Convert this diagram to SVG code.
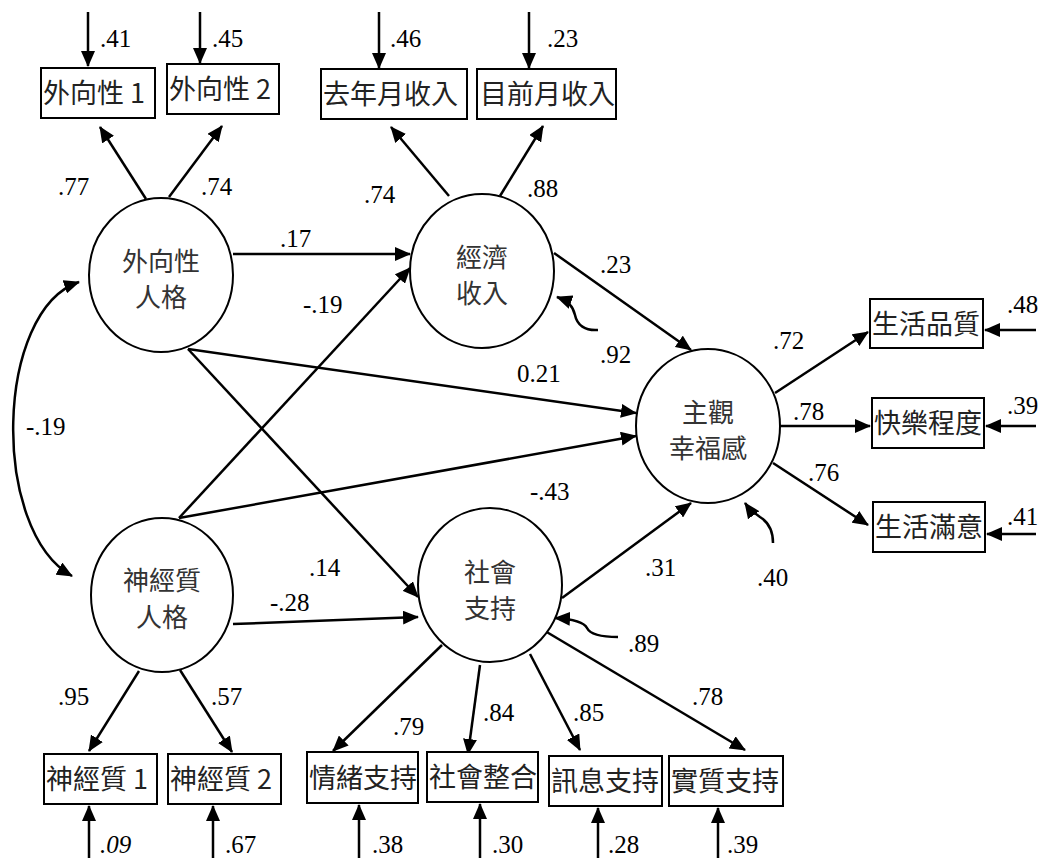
<svg xmlns="http://www.w3.org/2000/svg" width="1044" height="860" viewBox="0 0 1044 860">
<defs>
<marker id="ah" markerWidth="16" markerHeight="14" refX="15" refY="7" orient="auto-start-reverse" markerUnits="userSpaceOnUse"><path d="M0,0 L16,7 L0,14 z" fill="#000"/></marker>
<style>
.lat{fill:#fff;stroke:#000;stroke-width:2}
.box{fill:#fff;stroke:#000;stroke-width:2}
.cj{font-family:"Noto Sans CJK TC","Noto Sans CJK SC",sans-serif;font-size:27px;fill:#222}
.cl{font-family:"Noto Sans CJK TC","Noto Sans CJK SC",sans-serif;font-size:26px;fill:#333;text-anchor:middle}
.n{font-family:"Liberation Serif","Times New Roman",serif;font-size:25px;fill:#000}
.ln{fill:none;stroke:#000;stroke-width:2.5;marker-end:url(#ah)}
</style>
</defs>
<rect width="1044" height="860" fill="#fff"/>

<g id="connectors">
<!-- loadings -->
<path class="ln" d="M146,199 L100,127"/>
<path class="ln" d="M169,197 L222,126"/>
<path class="ln" d="M449,196 L391,127"/>
<path class="ln" d="M500,196 L543,126"/>
<path class="ln" d="M139,671 L89,751"/>
<path class="ln" d="M180,670 L232,752"/>
<path class="ln" d="M442,645 L333,751"/>
<path class="ln" d="M480,665 L468,754"/>
<path class="ln" d="M530,654 L580,750"/>
<path class="ln" d="M545,631 L745,750"/>
<path class="ln" d="M775,393 L868,332"/>
<path class="ln" d="M780,426 L870,426"/>
<path class="ln" d="M773,463 L868,525"/>
<!-- structural -->
<path class="ln" d="M233,254 L410,254"/>
<path class="ln" d="M179,518 L410,268"/>
<path class="ln" d="M188,349 L636,413"/>
<path class="ln" d="M179,518 L636,436"/>
<path class="ln" d="M188,349 L418,597"/>
<path class="ln" d="M233,624 L418,617"/>
<path class="ln" d="M554,253 L691,350"/>
<path class="ln" d="M562,598 L691,503"/>
<!-- covariance -->
<path class="ln" d="M79,282 C-5,310 -10,530 72,576" style="marker-start:url(#ah)"/>
<!-- disturbances -->
<path class="ln" d="M598,330 C585,331 577,325 575,315 C573,306 568,301 557,297"/>
<path class="ln" d="M773,543 C773,530 768,522 760,517 C754,513 750,510 745,503"/>
<path class="ln" d="M618,637 C600,637 590,634 587,628 C584,622 572,619 555,618"/>
<!-- errors top -->
<path class="ln" d="M88,12 L88,66"/>
<path class="ln" d="M200,12 L200,63"/>
<path class="ln" d="M379,12 L379,68"/>
<path class="ln" d="M529,12 L529,68"/>
<!-- errors right -->
<path class="ln" d="M1036,330 L985,330"/>
<path class="ln" d="M1036,426 L986,426"/>
<path class="ln" d="M1036,534 L987,534"/>
<!-- errors bottom -->
<path class="ln" d="M89,858 L89,806"/>
<path class="ln" d="M213,858 L213,806"/>
<path class="ln" d="M359,858 L359,805"/>
<path class="ln" d="M480,858 L480,804"/>
<path class="ln" d="M598,858 L598,808"/>
<path class="ln" d="M718,858 L718,808"/>
</g>

<g id="extraversion"><ellipse class="lat" cx="161" cy="275" rx="72" ry="77"/><text class="cl" x="161" y="271">外向性</text><text class="cl" x="161" y="307">人格</text></g>
<g id="neuroticism"><ellipse class="lat" cx="162" cy="595" rx="71" ry="77"/><text class="cl" x="162" y="590">神經質</text><text class="cl" x="162" y="627">人格</text></g>
<g id="income"><ellipse class="lat" cx="482" cy="271" rx="72" ry="77"/><text class="cl" x="482" y="267">經濟</text><text class="cl" x="482" y="303">收入</text></g>
<g id="support"><ellipse class="lat" cx="490" cy="585" rx="72" ry="77"/><text class="cl" x="490" y="582">社會</text><text class="cl" x="490" y="618">支持</text></g>
<g id="wellbeing"><ellipse class="lat" cx="708" cy="426" rx="72" ry="77"/><text class="cl" x="708" y="422">主觀</text><text class="cl" x="708" y="458">幸福感</text></g>

<g id="e1"><rect class="box" x="41" y="68" width="114" height="50"/><text class="cj" x="43" y="103">外向性 1</text></g>
<g id="e2"><rect class="box" x="167" y="64" width="112" height="50"/><text class="cj" x="169" y="99">外向性 2</text></g>
<g id="inc1"><rect class="box" x="321" y="69" width="146" height="50"/><text class="cj" x="323" y="104">去年月收入</text></g>
<g id="inc2"><rect class="box" x="477" y="69" width="139" height="50"/><text class="cj" x="480" y="104">目前月收入</text></g>
<g id="w1"><rect class="box" x="870" y="299" width="113" height="49"/><text class="cj" x="872" y="334">生活品質</text></g>
<g id="w2"><rect class="box" x="872" y="398" width="112" height="50"/><text class="cj" x="874" y="433">快樂程度</text></g>
<g id="w3"><rect class="box" x="873" y="502" width="112" height="50"/><text class="cj" x="875" y="537">生活滿意</text></g>
<g id="n1"><rect class="box" x="44" y="754" width="113" height="50"/><text class="cj" x="46" y="789">神經質 1</text></g>
<g id="n2"><rect class="box" x="168" y="754" width="113" height="50"/><text class="cj" x="170" y="789">神經質 2</text></g>
<g id="s1"><rect class="box" x="307" y="752" width="111" height="51"/><text class="cj" x="309" y="788">情緒支持</text></g>
<g id="s2"><rect class="box" x="427" y="752" width="111" height="50"/><text class="cj" x="429" y="787">社會整合</text></g>
<g id="s3"><rect class="box" x="549" y="756" width="113" height="50"/><text class="cj" x="551" y="791">訊息支持</text></g>
<g id="s4"><rect class="box" x="669" y="756" width="114" height="50"/><text class="cj" x="671" y="791">實質支持</text></g>

<g id="labels">
<text class="n" x="100" y="47">.41</text>
<text class="n" x="212" y="47">.45</text>
<text class="n" x="390" y="47">.46</text>
<text class="n" x="547" y="47">.23</text>
<text class="n" x="58" y="195">.77</text>
<text class="n" x="201" y="195">.74</text>
<text class="n" x="364" y="203">.74</text>
<text class="n" x="527" y="197">.88</text>
<text class="n" x="280" y="247">.17</text>
<text class="n" x="303" y="313">-.19</text>
<text class="n" x="517" y="382">0.21</text>
<text class="n" x="600" y="273">.23</text>
<text class="n" x="600" y="363">.92</text>
<text class="n" x="26" y="435">-.19</text>
<text class="n" x="773" y="349">.72</text>
<text class="n" x="793" y="420">.78</text>
<text class="n" x="808" y="481">.76</text>
<text class="n" x="1007" y="313">.48</text>
<text class="n" x="1007" y="414">.39</text>
<text class="n" x="1007" y="525">.41</text>
<text class="n" x="530" y="500">-.43</text>
<text class="n" x="309" y="576">.14</text>
<text class="n" x="270" y="611">-.28</text>
<text class="n" x="645" y="576">.31</text>
<text class="n" x="757" y="586">.40</text>
<text class="n" x="628" y="652">.89</text>
<text class="n" x="58" y="705">.95</text>
<text class="n" x="211" y="705">.57</text>
<text class="n" x="393" y="735">.79</text>
<text class="n" x="483" y="721">.84</text>
<text class="n" x="573" y="721">.85</text>
<text class="n" x="692" y="705">.78</text>
<text class="n" x="100" y="853" font-style="italic">.09</text>
<text class="n" x="225" y="853">.67</text>
<text class="n" x="372" y="853">.38</text>
<text class="n" x="492" y="853">.30</text>
<text class="n" x="608" y="853">.28</text>
<text class="n" x="727" y="853">.39</text>
</g>
</svg>
